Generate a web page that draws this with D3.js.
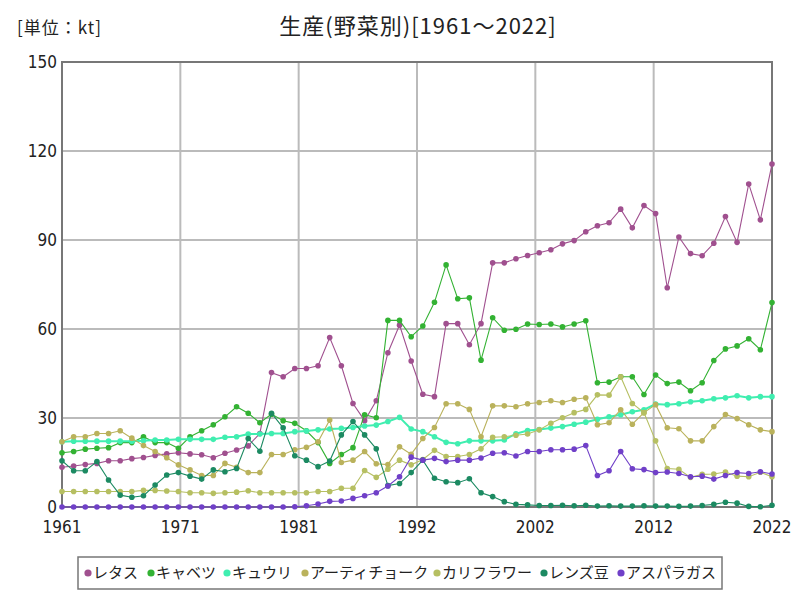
<!DOCTYPE html>
<html>
<head>
<meta charset="utf-8">
<script src="https://cdn.jsdelivr.net/npm/d3@7"></script>
<style>
  body { margin: 0; background: #fff; }
  svg text { font-family: "Noto Sans CJK JP", "Noto Sans", sans-serif; }
  svg text.tick { font-family: "Liberation Sans Narrow", "DejaVu Sans Condensed", "Noto Sans", sans-serif; font-stretch: condensed; }
</style>
</head>
<body>
<div id="chart"></div>
<script>
const years = d3.range(1961, 2023);
const xTickLabels = ["1961", "1971", "1981", "1992", "2002", "2012", "2022"];
const yTicks = [0, 30, 60, 90, 120, 150];

const seriesNames = ["レタス", "キャベツ", "キュウリ", "アーティチョーク", "カリフラワー", "レンズ豆", "アスパラガス"];
const seriesColors = ["#a0508f", "#33b233", "#40eeb0", "#bab25c", "#b6bf62", "#1c8a62", "#7040c8"];

const lettuce = [13.4, 13.8, 14.3, 14.7, 15.6, 15.6, 16.3, 16.7, 17.4, 17.9,
  18.3, 17.9, 17.6, 16.6, 18.1, 19.2, 20.6, 24.8, 45.3, 43.9,
  46.7, 46.7, 47.6, 57.1, 47.6, 34.9, 29.1, 35.8, 52.0, 61.3,
  49.2, 38.0, 37.2, 61.8, 61.8, 54.7, 61.8, 82.3, 82.3, 83.7,
  84.8, 85.7, 86.7, 88.7, 89.8, 92.8, 94.8, 95.8, 100.4, 94.1,
  101.6, 98.9, 73.9, 91.0, 85.4, 84.7, 88.9, 97.9, 89.2, 108.9,
  96.8, 115.6];
const cabbage = [18.3, 18.7, 19.5, 19.8, 20.0, 21.7, 21.7, 23.7, 21.7, 21.7,
  19.8, 23.7, 25.7, 27.7, 30.4, 33.8, 31.6, 28.4, 31.3, 29.1,
  28.2, 25.7, 21.7, 14.7, 17.7, 20.0, 31.1, 30.1, 62.9, 62.9,
  57.4, 61.0, 69.0, 81.6, 70.2, 70.5, 49.5, 63.8, 59.6, 59.9,
  61.7, 61.5, 61.7, 60.7, 61.7, 62.8, 41.9, 42.1, 43.9, 43.9,
  37.9, 44.5, 41.6, 42.1, 39.2, 41.9, 49.4, 53.3, 54.3, 56.7,
  53.0, 68.9];
const cucumber = [22.0, 22.2, 22.2, 22.2, 22.2, 22.2, 22.2, 22.3, 22.6, 22.6,
  22.8, 22.8, 22.8, 22.8, 23.5, 23.7, 24.6, 24.6, 24.8, 24.8,
  25.4, 25.6, 26.0, 26.3, 26.5, 26.8, 27.3, 27.6, 28.8, 30.2,
  26.3, 25.4, 23.7, 21.8, 21.3, 22.3, 22.3, 22.3, 22.6, 24.7,
  25.8, 26.1, 26.6, 27.1, 27.9, 28.6, 29.6, 30.4, 31.1, 32.1,
  32.8, 34.7, 34.5, 34.8, 35.5, 35.8, 36.5, 36.8, 37.5, 36.8,
  37.2, 37.2];
const artichoke = [22.0, 23.7, 23.7, 24.8, 24.8, 25.7, 23.2, 20.7, 18.7, 16.6,
  14.2, 12.5, 10.6, 10.6, 14.7, 13.4, 11.6, 11.6, 17.7, 17.7,
  19.3, 20.1, 22.0, 29.3, 15.0, 15.8, 18.7, 14.6, 14.3, 20.3,
  17.8, 23.1, 26.8, 34.8, 34.8, 32.9, 23.7, 34.1, 34.1, 33.8,
  34.8, 35.2, 35.8, 35.2, 36.3, 36.8, 27.7, 28.4, 32.8, 27.9,
  31.8, 34.5, 26.7, 26.4, 22.3, 22.3, 27.1, 31.2, 29.8, 27.7,
  26.0, 25.4];
const cauliflower = [5.2, 5.2, 5.2, 5.2, 5.2, 5.2, 5.2, 5.6, 5.6, 5.4,
  5.2, 4.8, 4.8, 4.6, 4.8, 5.0, 5.5, 4.8, 4.8, 4.8,
  4.8, 4.8, 5.2, 5.2, 6.3, 6.3, 12.3, 10.0, 12.7, 15.8,
  14.2, 16.0, 19.1, 17.0, 17.0, 17.7, 19.6, 23.5, 23.7, 24.2,
  24.6, 26.0, 28.2, 30.1, 31.8, 32.9, 37.8, 37.7, 43.9, 34.9,
  31.8, 22.3, 13.0, 12.7, 10.0, 11.0, 11.1, 11.8, 10.4, 10.2,
  11.7, 10.2];
const lentils = [15.6, 12.2, 12.2, 15.3, 9.1, 4.0, 3.3, 3.8, 7.4, 10.8,
  11.6, 10.4, 9.4, 12.5, 11.9, 13.0, 23.1, 18.8, 31.6, 26.7,
  17.3, 15.8, 13.6, 15.5, 24.3, 28.8, 24.3, 19.6, 7.2, 7.9,
  11.6, 15.8, 9.7, 8.5, 8.2, 9.5, 4.8, 3.5, 1.8, 0.9,
  0.7, 0.5, 0.5, 0.6, 0.4, 0.6, 0.3, 0.4, 0.3, 0.3,
  0.4, 0.3, 0.3, 0.2, 0.3, 0.5, 0.9, 1.6, 1.3, 0.2,
  0.1, 0.6];
const asparagus = [0, 0, 0, 0, 0, 0, 0, 0, 0, 0,
  0, 0, 0, 0, 0, 0, 0, 0, 0, 0,
  0.1, 0.4, 1.0, 1.9, 2.0, 2.9, 3.8, 4.8, 7.1, 10.2,
  16.8, 15.8, 16.4, 15.3, 15.8, 15.8, 16.5, 18.1, 18.3, 17.2,
  18.7, 18.7, 19.3, 19.3, 19.5, 20.7, 10.6, 12.2, 18.7, 12.9,
  12.6, 11.6, 11.8, 11.3, 10.2, 10.4, 9.4, 10.6, 11.6, 11.3,
  11.9, 11.1];

const seriesValues = [lettuce, cabbage, cucumber, artichoke, cauliflower, lentils, asparagus];

const width = 800, height = 600;
const margin = { top: 62, right: 28, bottom: 93, left: 62 };
const plotW = width - margin.left - margin.right;
const plotH = height - margin.top - margin.bottom;

const svg = d3.select("#chart").append("svg")
  .attr("width", width).attr("height", height);

const x = d3.scaleLinear().domain([1961, 2022]).range([margin.left, margin.left + plotW]);
const y = d3.scaleLinear().domain([0, 150]).range([margin.top + plotH, margin.top]);
const gridPos = d3.scaleLinear().domain([0, xTickLabels.length - 1]).range(x.range());

// grid
const grid = svg.append("g");
grid.selectAll("line.h").data(yTicks).join("line")
  .attr("x1", margin.left).attr("x2", margin.left + plotW)
  .attr("y1", d => y(d)).attr("y2", d => y(d))
  .attr("stroke", "#bbb").attr("stroke-width", 2);
grid.selectAll("line.v").data(xTickLabels).join("line")
  .attr("x1", (d, i) => gridPos(i)).attr("x2", (d, i) => gridPos(i))
  .attr("y1", margin.top).attr("y2", margin.top + plotH)
  .attr("stroke", "#bbb").attr("stroke-width", 2);

// frame
svg.append("rect")
  .attr("x", margin.left).attr("y", margin.top)
  .attr("width", plotW).attr("height", plotH)
  .attr("fill", "none").attr("stroke", "#777").attr("stroke-width", 2);

// axes labels
svg.append("g").selectAll("text").data(yTicks).join("text")
  .attr("class", "tick")
  .attr("x", margin.left - 5).attr("y", d => y(d))
  .attr("dy", "0.35em").attr("text-anchor", "end")
  .attr("font-size", 17).attr("fill", "#222")
  .text(d => d);
svg.append("g").selectAll("text").data(xTickLabels).join("text")
  .attr("class", "tick")
  .attr("x", (d, i) => gridPos(i)).attr("y", margin.top + plotH + 26)
  .attr("text-anchor", "middle")
  .attr("font-size", 17).attr("fill", "#222")
  .text(d => d);

// lines
const line = d3.line().x((d, i) => x(years[i])).y(d => y(d));
seriesValues.forEach((vals, si) => {
  const g = svg.append("g");
  g.append("path").datum(vals)
    .attr("d", line).attr("fill", "none")
    .attr("stroke", seriesColors[si])
    .attr("stroke-width", si === 2 ? 2 : 1.1);
  g.selectAll("circle").data(vals).join("circle")
    .attr("cx", (d, i) => x(years[i])).attr("cy", d => y(d))
    .attr("r", 2.8).attr("fill", seriesColors[si]);
});

// title
svg.append("text").attr("x", 418).attr("y", 34)
  .attr("text-anchor", "middle").attr("font-size", 22).attr("fill", "#222")
  .attr("letter-spacing", 1)
  .text("生産(野菜別)[1961～2022]");
svg.append("text").attr("x", 17).attr("y", 34)
  .attr("font-size", 17).attr("fill", "#222")
  .attr("letter-spacing", 1)
  .text("[単位：kt]");

// legend
const legend = svg.append("g");
legend.append("rect").attr("x", 78).attr("y", 557).attr("width", 644).attr("height", 32)
  .attr("fill", "#fff").attr("stroke", "#777").attr("stroke-width", 1.5);
const legendX = [88, 151, 227, 305, 437, 544, 621];
seriesNames.forEach((name, i) => {
  legend.append("circle").attr("cx", legendX[i]).attr("cy", 573).attr("r", 3.6)
    .attr("fill", seriesColors[i]);
  legend.append("text").attr("x", legendX[i] + 5).attr("y", 573)
    .attr("dy", "0.35em").attr("font-size", 15).attr("fill", "#222")
    .text(name);
});
</script>
</body>
</html>
